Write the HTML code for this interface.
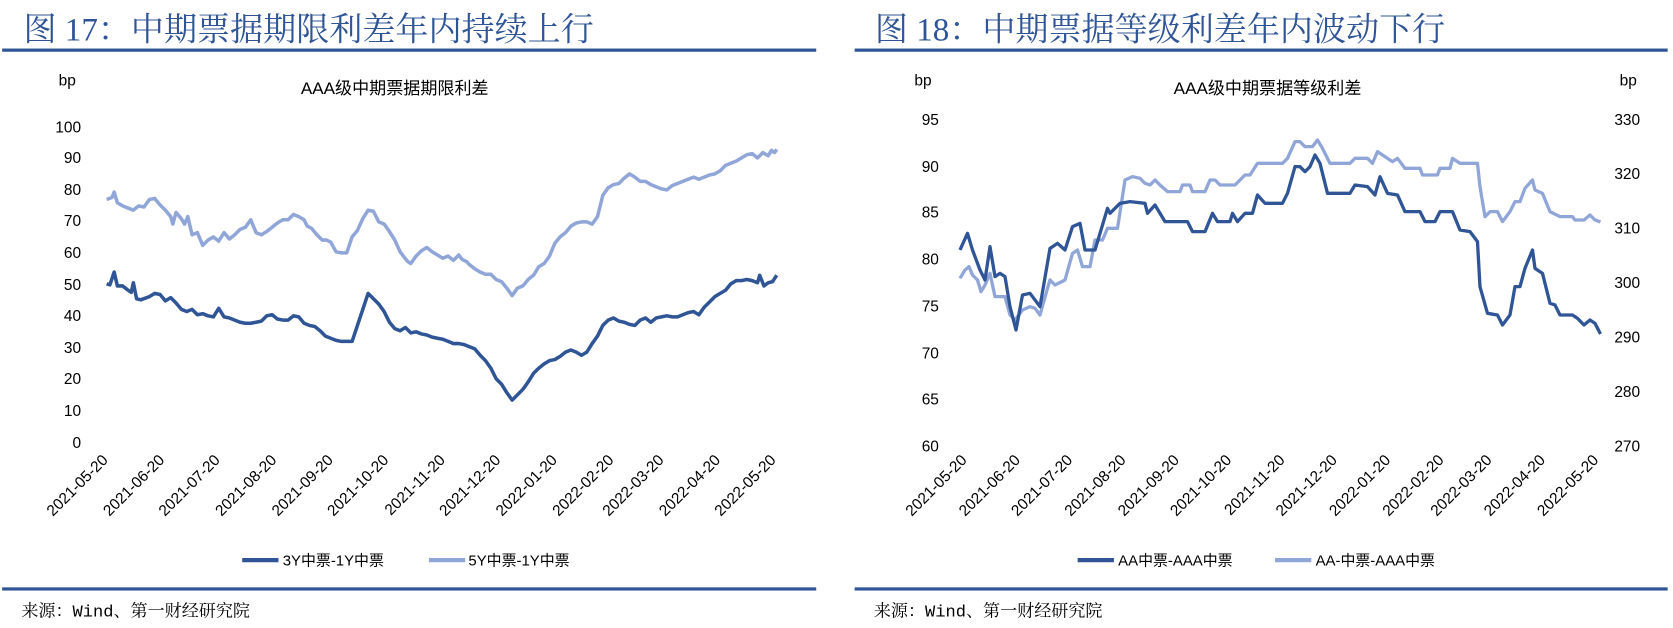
<!DOCTYPE html>
<html><head><meta charset="utf-8"><style>
html,body{margin:0;padding:0;background:#fff;}
svg{display:block;}
</style></head><body>
<svg width="1673" height="628" viewBox="0 0 1568 588.6" preserveAspectRatio="none" xmlns="http://www.w3.org/2000/svg">
<style>
.t{font-family:"Liberation Serif","Noto Serif CJK SC",serif;fill:#2f5597;font-size:31px;}
.ct{font-family:"Liberation Sans Narrow","Liberation Sans","Noto Sans CJK SC",sans-serif;font-size:16px;fill:#000;}
.ax{font-family:"Liberation Sans Narrow","Liberation Sans",sans-serif;font-size:14.5px;fill:#000;}
.lg{font-family:"Liberation Sans Narrow","Liberation Sans","Noto Sans CJK SC",sans-serif;font-size:14px;fill:#000;}
.ft{font-family:"Liberation Mono","Noto Serif CJK SC",serif;font-size:16px;fill:#000;}
.d{fill:none;stroke:#2f5597;stroke-width:3.3;stroke-linejoin:round;}
.l{fill:none;stroke:#91a6d8;stroke-width:3.3;stroke-linejoin:round;}
.s{vector-effect:non-scaling-stroke;}
</style>
<rect x="2" y="45.5" width="763" height="3" fill="#2f5597"/>
<rect x="801" y="45.5" width="762" height="3" fill="#2f5597"/>
<rect x="2" y="550.5" width="763" height="3" fill="#2f5597"/>
<rect x="801" y="550.5" width="762" height="3" fill="#2f5597"/>
<text class="t" x="22" y="38">图 17：中期票据期限利差年内持续上行</text>
<text class="t" x="820" y="38">图 18：中期票据等级利差年内波动下行</text>
<text class="ft" x="20" y="578">来源：Wind、第一财经研究院</text>
<text class="ft" x="819" y="578">来源：Wind、第一财经研究院</text>

<text class="ct" x="370" y="88" text-anchor="middle">AAA级中期票据期限利差</text>
<text class="ax" x="55" y="80">bp</text>
<g class="ax" text-anchor="end">
<text x="76" y="124">100</text><text x="76" y="153">90</text><text x="76" y="183">80</text><text x="76" y="212">70</text><text x="76" y="242">60</text><text x="76" y="272">50</text><text x="76" y="301">40</text><text x="76" y="331">30</text><text x="76" y="360">20</text><text x="76" y="390">10</text><text x="76" y="420">0</text>
</g>
<g class="ax" text-anchor="end">
<text transform="translate(102,432) rotate(-45)">2021-05-20</text>
<text transform="translate(155,432) rotate(-45)">2021-06-20</text>
<text transform="translate(207,432) rotate(-45)">2021-07-20</text>
<text transform="translate(260,432) rotate(-45)">2021-08-20</text>
<text transform="translate(313,432) rotate(-45)">2021-09-20</text>
<text transform="translate(365,432) rotate(-45)">2021-10-20</text>
<text transform="translate(418,432) rotate(-45)">2021-11-20</text>
<text transform="translate(470,432) rotate(-45)">2021-12-20</text>
<text transform="translate(523,432) rotate(-45)">2022-01-20</text>
<text transform="translate(576,432) rotate(-45)">2022-02-20</text>
<text transform="translate(623,432) rotate(-45)">2022-03-20</text>
<text transform="translate(676,432) rotate(-45)">2022-04-20</text>
<text transform="translate(728,432) rotate(-45)">2022-05-20</text>
</g>
<polyline class="l" points="100,187 105,185 107,180 110,190 115,193 120,195 125,197 130,193 135,194 140,187 145,186 150,192 155,197 160,203 162,210 165,199 170,205 173,210 176,203 180,220 185,218 190,230 195,225 200,222 205,226 210,218 215,224 220,220 225,215 230,213 235,206 240,218 245,220 250,217 255,213 260,209 265,206 270,206 275,201 280,203 285,206 288,212 292,214 297,220 302,225 306,225 310,227 315,236 320,237 325,237 330,222 335,216 340,205 345,197 350,198 355,208 360,210 365,217 370,225 375,236 378,240 382,245 385,247 390,240 395,235 400,232 405,236 410,239 415,242 420,240 425,244 430,239 433,243 437,245 440,248 445,252 450,255 455,257 460,257 465,262 470,264 475,270 480,277 485,270 490,268 495,262 500,258 505,250 510,247 515,240 520,228 525,222 530,218 535,212 540,209 545,208 550,208 555,210 560,203 565,183 570,176 575,173 580,172 585,167 590,163 595,166 600,170 605,170 610,173 615,175 620,177 625,178 630,174 635,172 640,170 645,168 650,166 655,168 660,166 665,164 670,163 675,160 680,155 685,153 690,151 695,148 700,145 705,144 710,148 715,143 720,146 723,141 726,143 728,140"/>
<polyline class="d" points="100,266 103,267 107,255 110,268 115,268 120,272 123,274 125,265 128,280 132,281 140,278 145,275 150,276 155,282 160,279 165,284 170,290 175,292 180,290 185,295 190,294 195,296 200,297 205,289 210,297 215,298 220,300 225,302 230,303 235,303 240,302 245,301 250,296 255,295 260,299 265,300 270,300 275,296 280,297 285,303 290,305 295,306 300,310 305,315 310,317 315,319 320,320 325,320 330,320 335,305 340,290 345,275 350,280 355,285 360,292 365,302 370,308 375,310 380,307 385,312 390,311 395,313 400,314 405,316 410,317 415,318 420,320 425,322 430,322 435,323 440,325 445,327 450,333 455,338 460,345 465,355 470,360 475,368 480,375 485,370 490,365 495,358 500,350 505,345 510,341 515,338 520,337 525,334 530,330 535,328 540,330 545,333 550,330 555,322 560,315 565,305 570,300 575,298 580,301 585,302 590,304 595,305 600,300 605,298 610,302 615,298 620,297 625,296 630,297 635,297 640,295 645,293 650,292 655,295 660,288 665,283 670,278 675,275 680,272 685,266 690,263 695,263 700,262 705,263 710,265 712,258 716,268 720,265 724,264 728,258"/>
<line x1="227" y1="525" x2="261" y2="525" stroke="#2f5597" stroke-width="4"/>
<text class="lg" x="265" y="530">3Y中票-1Y中票</text>
<line x1="402" y1="525" x2="436" y2="525" stroke="#91a6d8" stroke-width="4"/>
<text class="lg" x="439" y="530">5Y中票-1Y中票</text>

<text class="ct" x="1188" y="88" text-anchor="middle">AAA级中期票据等级利差</text>
<text class="ax" x="857" y="80">bp</text>
<text class="ax" x="1518" y="80">bp</text>
<g class="ax" text-anchor="end">
<text x="880" y="117">95</text><text x="880" y="161">90</text><text x="880" y="204">85</text><text x="880" y="248">80</text><text x="880" y="292">75</text><text x="880" y="336">70</text><text x="880" y="379">65</text><text x="880" y="423">60</text>
</g>
<g class="ax">
<text x="1513" y="117">330</text><text x="1513" y="168">320</text><text x="1513" y="219">310</text><text x="1513" y="270">300</text><text x="1513" y="321">290</text><text x="1513" y="372">280</text><text x="1513" y="423">270</text>
</g>
<g class="ax" text-anchor="end">
<text transform="translate(907,432) rotate(-45)">2021-05-20</text>
<text transform="translate(957,432) rotate(-45)">2021-06-20</text>
<text transform="translate(1006,432) rotate(-45)">2021-07-20</text>
<text transform="translate(1056,432) rotate(-45)">2021-08-20</text>
<text transform="translate(1106,432) rotate(-45)">2021-09-20</text>
<text transform="translate(1155,432) rotate(-45)">2021-10-20</text>
<text transform="translate(1205,432) rotate(-45)">2021-11-20</text>
<text transform="translate(1254,432) rotate(-45)">2021-12-20</text>
<text transform="translate(1304,432) rotate(-45)">2022-01-20</text>
<text transform="translate(1354,432) rotate(-45)">2022-02-20</text>
<text transform="translate(1399,432) rotate(-45)">2022-03-20</text>
<text transform="translate(1449,432) rotate(-45)">2022-04-20</text>
<text transform="translate(1499,432) rotate(-45)">2022-05-20</text>
</g>
<g transform="translate(749.8,37.49) scale(0.4686,0.3124)">
<polyline class="l s" points="320,715 330,690 338,680 345,705 355,720 362,755 370,735 380,700 390,770 410,770 420,825 430,840 445,810 460,800 470,805 480,825 495,745 500,720 510,735 530,720 545,640 555,630 565,680 580,680 590,600 605,600 615,565 635,565 650,420 665,410 680,415 690,430 700,435 710,420 720,435 735,455 760,455 765,435 780,435 785,455 810,455 820,420 830,420 840,435 870,435 880,420 890,405 900,405 915,370 965,370 975,355 990,305 1000,305 1010,320 1025,320 1035,300 1045,325 1060,370 1100,370 1110,355 1135,355 1145,370 1155,335 1175,355 1185,365 1195,355 1210,385 1240,385 1245,405 1275,405 1280,385 1300,385 1305,355 1320,370 1355,370 1360,440 1370,530 1380,515 1395,515 1405,545 1420,515 1430,485 1440,485 1450,445 1465,420 1470,450 1485,460 1500,515 1520,530 1545,530 1550,540 1568,540 1580,525 1590,540 1601,546"/>
<polyline class="d s" points="320,630 335,580 345,630 360,690 370,720 380,620 390,710 400,700 410,710 420,800 432,870 445,765 460,760 480,800 500,625 515,610 530,630 545,560 560,550 570,630 590,630 615,505 620,520 640,490 660,485 690,490 695,520 710,495 730,545 775,545 785,575 810,575 825,520 835,545 860,545 865,520 875,545 890,520 905,520 915,465 930,490 965,490 975,460 990,380 1000,380 1010,395 1020,380 1030,345 1040,370 1055,460 1100,460 1110,435 1135,440 1150,465 1160,410 1175,460 1195,465 1210,515 1240,515 1250,545 1270,545 1280,515 1305,515 1320,570 1340,575 1355,605 1360,740 1375,820 1395,825 1405,855 1420,825 1430,740 1440,740 1450,685 1465,630 1470,685 1485,700 1500,790 1510,795 1520,825 1545,825 1555,835 1568,855 1580,840 1590,850 1601,882"/>
</g>
<line x1="1010" y1="525" x2="1044" y2="525" stroke="#2f5597" stroke-width="4"/>
<text class="lg" x="1048" y="530">AA中票-AAA中票</text>
<line x1="1195" y1="525" x2="1229" y2="525" stroke="#91a6d8" stroke-width="4"/>
<text class="lg" x="1233" y="530">AA-中票-AAA中票</text>
</svg>
</body></html>
